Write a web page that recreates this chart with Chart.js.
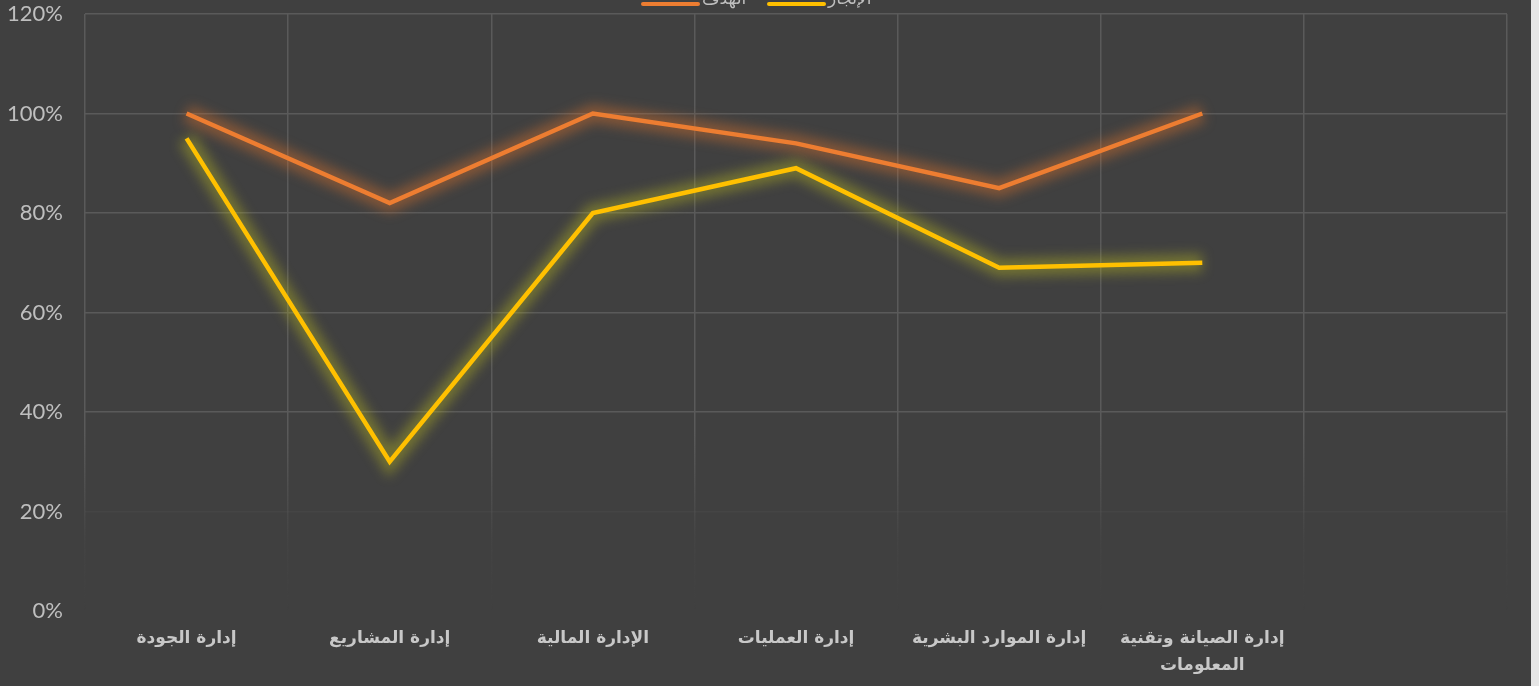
<!DOCTYPE html>
<html>
<head>
  <meta charset="UTF-8" />
  <title>الهدف والإنجاز</title>
  <script src="https://cdn.jsdelivr.net/npm/chart.js"></script>
  <style>
    body {
      margin: 0;
      padding: 0;
      background: #e6e6e6;
      overflow: hidden;
    }
    #wrap {
      width: 1531px;
      height: 686px;
      background: #404040;
    }
  </style>
</head>
<body>
  <div id="wrap"><canvas id="goalChart" width="1531" height="686"></canvas></div>
  <script>
    const categories = [
      'إدارة الجودة',
      'إدارة المشاريع',
      'الإدارة المالية',
      'إدارة العمليات',
      'إدارة الموارد البشرية',
      ['إدارة الصيانة وتقنية', 'المعلومات'],
      ''
    ];
    const targetValues = [100, 82, 100, 94, 85, 100, null];
    const actualValues = [95, 30, 80, 89, 69, 70, null];
    const seriesNames = ['الهدف', 'الإنجاز'];
    const seriesColors = ['#ED7D31', '#FFC000'];
    const glowColors = ['rgba(210,110,45,0.45)', 'rgba(190,190,30,0.4)'];

    const gridCol = '#5a5a5a';

    // blurred wide stroke under each line, like the office "glow" effect
    const glowPlugin = {
      id: 'glow',
      beforeDatasetDraw(chart, args) {
        const c = chart.ctx;
        const el = args.meta.dataset;
        const opts = el.options;
        const w = opts.borderWidth, col = opts.borderColor;
        c.save();
        c.filter = 'blur(6px)';
        opts.borderWidth = 18;
        opts.borderColor = glowColors[args.index];
        el.draw(c, chart.chartArea);
        opts.borderWidth = w;
        opts.borderColor = col;
        c.restore();
      }
    };

    // legend sits at the very top, partly clipped like the original
    const topLegend = {
      id: 'topLegend',
      afterDraw(chart) {
        const c = chart.ctx;
        c.save();
        c.font = '17px "DejaVu Sans", sans-serif';
        c.fillStyle = '#bfbfbf';
        c.textBaseline = 'middle';
        c.lineCap = 'round';
        c.lineWidth = 4;
        const items = [[643, seriesNames[0], seriesColors[0]], [769, seriesNames[1], seriesColors[1]]];
        items.forEach(([x, label, col]) => {
          c.strokeStyle = col;
          c.beginPath();
          c.moveTo(x, 4);
          c.lineTo(x + 55, 4);
          c.stroke();
          c.fillText(label, x + 59, 0);
        });
        c.restore();
      }
    };

    function vGrid(ctx) {
      const chart = ctx.chart;
      const area = chart.chartArea;
      if (!area) return gridCol;
      const g = chart.ctx.createLinearGradient(0, area.top, 0, area.bottom);
      g.addColorStop(0, gridCol);
      g.addColorStop(0.7, gridCol);
      g.addColorStop(0.88, 'rgba(90,90,90,0.15)');
      g.addColorStop(1, 'rgba(90,90,90,0)');
      return g;
    }

    new Chart(document.getElementById('goalChart').getContext('2d'), {
      type: 'line',
      data: {
        labels: categories,
        datasets: [{
          label: seriesNames[0],
          data: targetValues,
          borderColor: seriesColors[0],
          borderWidth: 4.5,
          pointRadius: 0,
          tension: 0,
          fill: false
        }, {
          label: seriesNames[1],
          data: actualValues,
          borderColor: seriesColors[1],
          borderWidth: 4.5,
          pointRadius: 0,
          tension: 0,
          fill: false
        }]
      },
      options: {
        responsive: false,
        animation: false,
        layout: { padding: { top: 14, right: 24, left: 0, bottom: 0 } },
        plugins: {
          legend: { display: false },
          title: { display: false },
          tooltip: { enabled: false }
        },
        scales: {
          x: {
            offset: true,
            grid: { offset: true, color: vGrid, lineWidth: 1.5, drawTicks: false },
            border: { display: false },
            ticks: {
              color: '#c8c8c8',
              font: { family: '"DejaVu Sans", sans-serif', size: 17, weight: 'bold', lineHeight: 1.6 },
              padding: 14,
              maxRotation: 0,
              autoSkip: false
            },
            afterFit(scale) { scale.height = 75; }
          },
          y: {
            min: 0,
            max: 120,
            ticks: {
              stepSize: 20,
              color: '#bfbfbf',
              font: { family: 'Lato, sans-serif', size: 22 },
              padding: 22,
              callback: v => v + '%'
            },
            grid: {
              drawTicks: false,
              lineWidth: 1.5,
              color: ctx => ctx.tick && ctx.tick.value === 0 ? 'rgba(90,90,90,0)' :
                (ctx.tick && ctx.tick.value === 20 ? 'rgba(90,90,90,0.2)' : gridCol)
            },
            border: { display: false },
            afterFit(scale) {
              scale.width = 85;
              scale.paddingTop = 0;
              scale.paddingBottom = 0;
            }
          }
        }
      },
      plugins: [glowPlugin, topLegend]
    });
  </script>
</body>
</html>
